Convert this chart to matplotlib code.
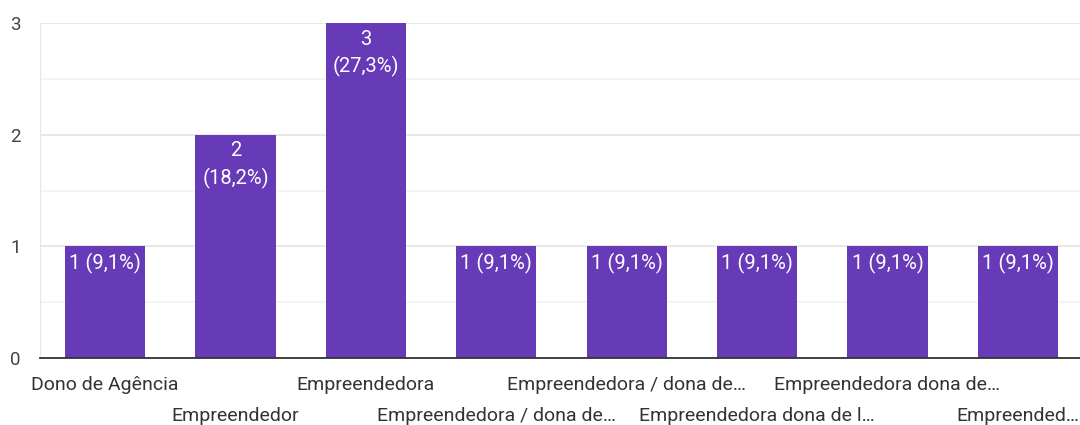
import matplotlib.pyplot as plt
from matplotlib.ticker import MultipleLocator

plt.rcParams['font.family'] = ['Roboto', 'DejaVu Sans']

categories = ['Dono de Agência', 'Empreendedor', 'Empreendedora',
              'Empreendedora / dona de…', 'Empreendedora / dona de…',
              'Empreendedora dona de l…', 'Empreendedora dona de…',
              'Empreended…']
counts = [1, 2, 3, 1, 1, 1, 1, 1]
bar_labels = ['1 (9,1%)', '2\n(18,2%)', '3\n(27,3%)', '1 (9,1%)',
              '1 (9,1%)', '1 (9,1%)', '1 (9,1%)', '1 (9,1%)']

fig = plt.figure(figsize=(10.8, 4.25), dpi=100)
ax = fig.add_axes([40 / 1080, 67 / 425, 1043 / 1080, 335 / 425])

x = list(range(len(categories)))
bars = ax.bar(x, counts, width=0.615, color='#673ab7', zorder=3)

for b, lab, v in zip(bars, bar_labels, counts):
    ax.text(b.get_x() + b.get_width() / 2, v - 0.06, lab, ha='center', va='top',
            color='white', fontsize=14.5, linespacing=1.45, zorder=4)

ax.set_xlim(-0.5, 7.5)
ax.set_ylim(0, 3)
ax.yaxis.set_major_locator(MultipleLocator(1))
ax.yaxis.set_minor_locator(MultipleLocator(0.5))
ax.grid(axis='y', which='major', color='#e6e6e6', linewidth=1.3, zorder=0)
ax.grid(axis='y', which='minor', color='#f3f3f3', linewidth=1.3, zorder=0)

for s in ['top', 'right']:
    ax.spines[s].set_visible(False)
ax.spines['left'].set_color('#e6e6e6')
ax.spines['bottom'].set_color('#333333')
ax.spines['bottom'].set_linewidth(1.3)
ax.spines['bottom'].set_zorder(5)

ax.tick_params(axis='y', which='both', length=0, labelsize=13.5, labelcolor='#444444', pad=14)
ax.tick_params(axis='x', length=0)

ax.set_xticks(x)
ax.set_xticklabels([])
for i, c in enumerate(categories):
    yoff = -0.24 if i % 2 == 0 else -0.515
    ax.text(i, yoff, c, ha='center', va='center', fontsize=14, color='#333333',
            clip_on=False)

fig.savefig('out.png', dpi=100)
